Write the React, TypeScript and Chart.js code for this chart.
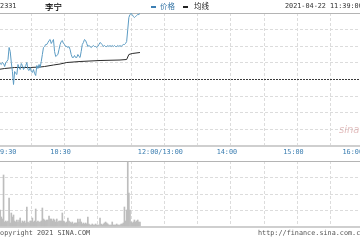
import React, { useEffect, useRef } from 'react';
import { Chart, registerables } from 'chart.js';

Chart.register(...registerables);

// ---- data (minutes after 09:30, lunch break compressed) ----
const PREV_CLOSE = 57.0;
const PRICE_STEP = 0.3325;
const GRID_MINUTES = [30, 60, 90, 120, 150, 180, 210, 240, 270, 300];
const TIME_LABELS = ['09:30', '10:30', '12:00/13:00', '14:00', '15:00', '16:00'];
const TIME_LABEL_MINUTES = [0, 60, 150, 210, 270, 330];

const PRICE = [
  57.36, 57.34, 57.34, 57.30, 57.34, 57.32, 57.26, 57.34, 57.36, 57.40,
  57.64, 57.56, 57.34, 57.16, 56.90, 57.16, 57.12, 57.10, 57.30, 57.24,
  57.20, 57.32, 57.28, 57.20, 57.24, 57.28, 57.34, 57.20, 57.18, 57.24,
  57.16, 57.14, 57.20, 57.12, 57.08, 57.28, 57.22, 57.30, 57.24, 57.36,
  57.50, 57.64, 57.66, 57.70, 57.70, 57.74, 57.78, 57.80, 57.72, 57.76,
  57.80, 57.56, 57.46, 57.48, 57.50, 57.60, 57.70, 57.76, 57.78, 57.72,
  57.70, 57.66, 57.66, 57.64, 57.66, 57.60, 57.50, 57.44, 57.44, 57.48,
  57.44, 57.44, 57.50, 57.46, 57.44, 57.56, 57.70, 57.74, 57.80, 57.78,
  57.72, 57.66, 57.68, 57.66, 57.64, 57.66, 57.68, 57.66, 57.66, 57.64,
  57.66, 57.70, 57.74, 57.72, 57.70, 57.66, 57.68, 57.66, 57.66, 57.68,
  57.66, 57.68, 57.66, 57.68, 57.66, 57.68, 57.66, 57.66, 57.68, 57.66,
  57.68, 57.66, 57.68, 57.70, 57.70, 57.72, 57.76, 58.00, 58.24, 58.30,
  58.32, 58.30, 58.26, 58.24, 58.26, 58.28, 58.30, 58.30, 58.32,
];

const AVG_MINUTES = [0, 6, 15, 29, 38, 42, 50, 56, 62, 74, 92, 110, 116, 118, 121, 128];
const AVG_PRICE = [57.20, 57.22, 57.24, 57.24, 57.25, 57.26, 57.29, 57.31, 57.34, 57.36, 57.38, 57.39, 57.40, 57.50, 57.52, 57.54];

const VOLUME = [
  200, 170, 170, 100, 80, 520, 50, 60, 50, 60,
  290, 40, 140, 100, 120, 60, 50, 70, 50, 70,
  90, 40, 60, 50, 60, 40, 200, 50, 40, 60,
  60, 90, 50, 60, 180, 50, 60, 50, 50, 60,
  190, 80, 70, 60, 70, 70, 110, 80, 80, 60,
  80, 70, 50, 80, 50, 60, 60, 60, 140, 60,
  50, 40, 50, 90, 60, 50, 40, 50, 30, 40,
  40, 40, 80, 50, 80, 50, 30, 40, 30, 40,
  30, 100, 30, 20, 20, 30, 20, 20, 30, 20,
  20, 20, 90, 30, 20, 30, 40, 50, 40, 30,
  20, 20, 20, 50, 20, 20, 20, 30, 20, 20,
  20, 30, 30, 40, 200, 60, 170, 650, 340, 170,
  50, 40, 50, 70, 50, 60, 70, 50, 50,
];
const VOL_TICKS = [0, 165, 330, 495, 660];

const X_MIN = 1.8;
const X_MAX = 326.4;

const MONO = '"DejaVu Sans Mono", monospace';

const timeLabelPlugin = {
  id: 'timeLabels',
  afterDraw(chart: any) {
    const { ctx, chartArea } = chart;
    const x = chart.scales.x;
    ctx.save();
    ctx.font = `6.8px ${MONO}`;
    ctx.fillStyle = '#3a7db0';
    ctx.textBaseline = 'middle';
    TIME_LABELS.forEach((t, i) => {
      const px = x.getPixelForValue(TIME_LABEL_MINUTES[i]);
      let align: CanvasTextAlign = 'center';
      let dx = -4;
      if (i === 0) { align = 'left'; dx = -2; }
      else if (i === TIME_LABELS.length - 1) { align = 'right'; dx = -1; }
      ctx.textAlign = align;
      ctx.fillText(t, px + dx, chartArea.bottom + 6);
    });
    ctx.restore();
  },
};

function xScale() {
  return {
    type: 'linear' as const,
    min: X_MIN,
    max: X_MAX,
    offset: false,
    ticks: { display: false },
    afterBuildTicks: (s: any) => { s.ticks = GRID_MINUTES.map((v) => ({ value: v })); },
    grid: { color: '#dcdcdc', lineWidth: 1, drawTicks: false, offset: false },
    border: { display: false, dash: [3, 2] },
  };
}

export default function App() {
  const priceRef = useRef<HTMLCanvasElement>(null);
  const volRef = useRef<HTMLCanvasElement>(null);

  useEffect(() => {
    const yMin = PREV_CLOSE - 4 * PRICE_STEP;
    const yMax = PREV_CLOSE + 4 * PRICE_STEP;
    const priceTicks = [0, 1, 2, 3, 4, 5, 6, 7, 8].map((k) => yMin + k * PRICE_STEP);

    const c1 = new Chart(priceRef.current!, {
      type: 'line',
      data: {
        datasets: [
          {
            label: '价格',
            data: PRICE.map((p, i) => ({ x: i, y: p })),
            borderColor: '#5b9bc3',
            borderWidth: 1,
            pointRadius: 0,
            tension: 0,
          },
          {
            label: '均线',
            data: AVG_PRICE.map((p, i) => ({ x: AVG_MINUTES[i], y: p })),
            borderColor: '#2a2a2a',
            borderWidth: 1,
            pointRadius: 0,
            tension: 0,
          },
        ],
      },
      options: {
        animation: false,
        responsive: false,
        events: [],
        layout: { padding: { top: 13, bottom: 14, left: 0, right: 0 } },
        plugins: { legend: { display: false }, tooltip: { enabled: false } },
        scales: {
          x: xScale(),
          y: {
            type: 'linear',
            min: yMin,
            max: yMax,
            ticks: { display: false },
            afterBuildTicks: (s: any) => { s.ticks = priceTicks.map((v) => ({ value: v })); },
            grid: {
              drawTicks: false,
              color: (c: any) => {
                if (c.index === 8) return '#b4b4b4';
                if (c.index === 0) return '#cfcfcf';
                if (c.index === 4) return '#3a3a3a';
                return '#dcdcdc';
              },
              lineWidth: (c: any) => (c.index === 0 ? 2 : 1),
            },
            border: {
              display: false,
              dash: (c: any) => (c.index === 0 || c.index === 8 ? [] : c.index === 4 ? [2, 1] : [3, 2]),
            },
          },
        },
      },
      plugins: [timeLabelPlugin],
    } as any);

    const c2 = new Chart(volRef.current!, {
      type: 'bar',
      data: {
        datasets: [
          {
            label: '成交量',
            data: VOLUME.map((v, i) => ({ x: i, y: v })),
            backgroundColor: '#bdbdbd',
            barThickness: 1,
          },
        ],
      },
      options: {
        animation: false,
        responsive: false,
        events: [],
        layout: { padding: { top: 1, bottom: 13, left: 0, right: 0 } },
        plugins: { legend: { display: false }, tooltip: { enabled: false } },
        scales: {
          x: xScale(),
          y: {
            type: 'linear',
            min: VOL_TICKS[0],
            max: VOL_TICKS[VOL_TICKS.length - 1],
            ticks: { display: false },
            afterBuildTicks: (s: any) => { s.ticks = VOL_TICKS.map((v) => ({ value: v })); },
            grid: {
              drawTicks: false,
              color: (c: any) => (c.index === 4 ? '#b4b4b4' : c.index === 0 ? '#cfcfcf' : '#dcdcdc'),
              lineWidth: (c: any) => (c.index === 0 ? 2 : 1),
            },
            border: {
              display: false,
              dash: (c: any) => (c.index === 0 || c.index === 4 ? [] : [3, 2]),
            },
          },
        },
      },
    } as any);

    return () => {
      c1.destroy();
      c2.destroy();
    };
  }, []);

  const mono: React.CSSProperties = {
    position: 'absolute',
    fontFamily: MONO,
    fontSize: '6.8px',
    lineHeight: '7px',
    whiteSpace: 'nowrap',
  };

  return (
    <div style={{ position: 'fixed', left: 0, top: 0, width: 360, height: 240, overflow: 'hidden', background: '#fff' }}>
      <canvas ref={priceRef} width={360} height={160} style={{ position: 'absolute', left: 0, top: 0, width: 360, height: 160 }} />
      <canvas ref={volRef} width={360} height={80} style={{ position: 'absolute', left: 0, top: 160, width: 360, height: 80 }} />

      <span style={{ ...mono, left: -4, top: 2.5, color: '#333' }}>02331</span>
      <span style={{ position: 'absolute', left: 45, top: 1, fontFamily: '"Noto Sans CJK SC", sans-serif', fontSize: '8.5px', lineHeight: '10px', fontWeight: 500, color: '#000', whiteSpace: 'nowrap' }}>李宁</span>

      <div style={{ position: 'absolute', left: 151, top: 6, width: 5, height: 2, background: '#3d7fb3' }} />
      <span style={{ position: 'absolute', left: 160, top: 1, fontFamily: '"Noto Sans CJK SC", sans-serif', fontSize: '7.5px', lineHeight: '10px', color: '#3a78a8', whiteSpace: 'nowrap' }}>价格</span>
      <div style={{ position: 'absolute', left: 183, top: 6, width: 5, height: 2, background: '#222' }} />
      <span style={{ position: 'absolute', left: 194, top: 1, fontFamily: '"Noto Sans CJK SC", sans-serif', fontSize: '7.5px', lineHeight: '10px', color: '#222', whiteSpace: 'nowrap' }}>均线</span>

      <span style={{ ...mono, left: 285, top: 2.5, color: '#333' }}>2021-04-22 11:39:00</span>

      <span style={{ position: 'absolute', left: 339, top: 125, fontFamily: 'Verdana, "DejaVu Sans", sans-serif', fontStyle: 'italic', fontSize: '10px', lineHeight: '10px', color: 'rgba(205,140,140,0.55)', whiteSpace: 'nowrap' }}>sina</span>

      <span style={{ ...mono, left: -4, top: 229.5, color: '#555' }}>Copyright 2021 SINA.COM</span>
      <span style={{ ...mono, left: 258, top: 229.5, color: '#555' }}>http://finance.sina.com.cn</span>
    </div>
  );
}
